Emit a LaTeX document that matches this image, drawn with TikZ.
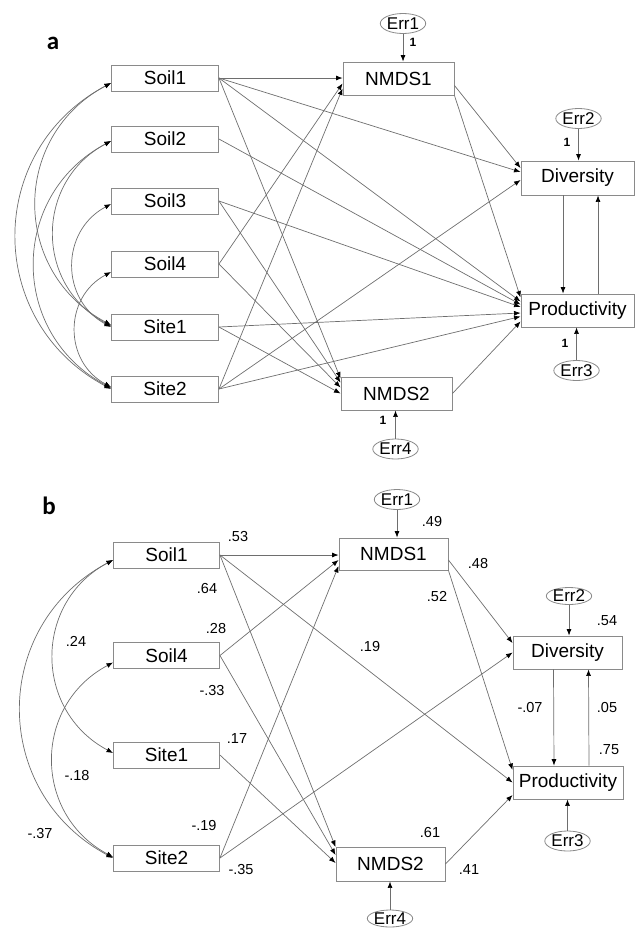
\documentclass[tikz,border=0pt]{standalone}
\usepackage{fontspec}
\setmainfont{Liberation Sans}
\newfontfamily\panelfont{Carlito}
\usetikzlibrary{arrows.meta,shapes.geometric}

\definecolor{edge}{HTML}{6E6E6E}
\definecolor{frame}{HTML}{8A8A8A}

\tikzstyle{obs}=[draw=frame, line width=0.9pt, inner sep=0pt, minimum width=107pt,
  minimum height=26pt, font=\fontsize{19}{21}\selectfont]
\tikzstyle{big}=[obs, minimum width=111pt, minimum height=33pt]
\tikzstyle{err}=[draw=frame, line width=0.8pt, ellipse, inner sep=0pt, minimum width=45pt,
  minimum height=20pt, font=\fontsize{17}{19}\selectfont]
\tikzstyle{link}=[draw=edge, line width=0.7pt, -{Latex[length=6.5pt,width=5pt,color=black]}]
\tikzstyle{cov}=[draw=edge, line width=0.7pt,
  {Latex[length=6.5pt,width=5pt,color=black]}-{Latex[length=6.5pt,width=5pt,color=black]},
  bend right=62, looseness=1.2]
\tikzstyle{coef}=[inner sep=0pt, font=\fontsize{14.5}{16}\selectfont]
\tikzstyle{one}=[inner sep=0pt, font=\fontsize{12}{13}\selectfont\bfseries]
\tikzstyle{panel}=[inner sep=0pt, font=\panelfont\fontsize{25}{25}\selectfont\bfseries]

\begin{document}
\begin{tikzpicture}[x=1pt,y=1pt]
\useasboundingbox (0,0) rectangle (637,-929);
%
% Panel a
\draw (53,-43) node[panel](laba){a};
\foreach \nm/\txt/\y in {soil1a/Soil1/78, soil2a/Soil2/139, soil3a/Soil3/201,
  soil4a/Soil4/264, site1a/Site1/327, site2a/Site2/389}{
  \draw (165,-\y) node[obs](\nm){\txt};
}
\draw (398.5,-78.5) node[big](nmds1a){NMDS1};
\draw (396.5,-393.5) node[big](nmds2a){NMDS2};
\draw (577.5,-178) node[big, minimum width=113pt, minimum height=34pt](diva){Diversity};
\draw (577.5,-310.5) node[big, minimum width=113pt](proda){Productivity};
%
\draw (403,-23.5) node[err](err1a){Err1};
\draw (578.5,-118.5) node[err](err2a){Err2};
\draw (576.5,-370.5) node[err](err3a){Err3};
\draw (395.5,-449) node[err](err4a){Err4};
\draw[link] (err1a.south) -- (err1a.south |- nmds1a.north);
\draw[link] (err2a.south) -- (err2a.south |- diva.north);
\draw[link] (err3a.north) -- (err3a.north |- proda.south);
\draw[link] (err4a.north) -- (err4a.north |- nmds2a.south);
\draw (413,-42) node[one](o1a){1};
\draw (567,-142) node[one](o2a){1};
\draw (565,-343) node[one](o3a){1};
\draw (383,-420) node[one](o4a){1};
% Paths to NMDS1 and NMDS2
\draw[link] (soil1a.east) -- (soil1a.east -| nmds1a.west);
\draw[link] (soil4a.east) -- ([yshift=-5]nmds1a.west);
\draw[link] (site2a.east) -- ([yshift=-10]nmds1a.west);
\foreach \s/\sh in {soil1a/15, soil3a/11, soil4a/6, site1a/0}
  \draw[link] (\s.east) -- ([yshift=\sh]nmds2a.west);
% Paths to Diversity and Productivity
\draw[link] ([yshift=-7]nmds1a.east) -- ([yshift=10]diva.west);
\draw[link] (soil1a.east) -- ([yshift=6]diva.west);
\draw[link] (site2a.east) -- ([yshift=-2]diva.west);
\draw[link] (nmds1a.south east) -- ([yshift=13]proda.west);
\foreach \s/\sh in {soil1a/9, soil2a/6, soil3a/3.5, site1a/-2.5, site2a/-6}
  \draw[link] (\s.east) -- ([yshift=\sh]proda.west);
\draw[link] (nmds2a.east) -- ([yshift=-11]proda.west);
\draw[link] ([xshift=-14.5]diva.south) -- ([xshift=-14.5]proda.north);
\draw[link] ([xshift=20.5]proda.north) -- ([xshift=20.5]diva.south);
% Covariances
\draw[cov] ([yshift=-5]soil1a.west) to ([yshift=0]site2a.west);
\draw[cov] ([yshift=-5]soil1a.west) to ([yshift=2]site1a.west);
\draw[cov] ([yshift=-2]soil2a.west) to ([yshift=1]site2a.west);
\draw[cov] ([yshift=-2]soil2a.west) to ([yshift=1]site1a.west);
\draw[cov] ([yshift=-3]soil3a.west) to ([yshift=0]site1a.west);
\draw[cov] ([yshift=-8]soil4a.west) to ([yshift=2]site2a.west);
%
% Panel b
\draw (49,-506) node[panel](labb){b};
\foreach \nm/\txt/\y in {soil1b/Soil1/555, soil4b/Soil4/655.5, site1b/Site1/755, site2b/Site2/858}{
  \draw (166.5,-\y) node[obs, minimum width=106pt](\nm){\txt};
}
\draw (393.5,-554) node[big, minimum width=109pt, minimum height=32pt](nmds1b){NMDS1};
\draw (390.5,-864) node[big, minimum width=109pt, minimum height=34pt](nmds2b){NMDS2};
\draw (567.5,-652.5) node[big, minimum width=109pt](divb){Diversity};
\draw (568,-782.5) node[big, minimum width=110pt](prodb){Productivity};
%
\draw (397,-499.5) node[err](err1b){Err1};
\draw (569,-596) node[err, minimum height=17pt](err2b){Err2};
\draw (567.5,-841) node[err](err3b){Err3};
\draw (390,-918.5) node[err, minimum height=17pt](err4b){Err4};
\draw[link] (err1b.south) -- (err1b.south |- nmds1b.north);
\draw[link] (err2b.south) -- (err2b.south |- divb.north);
\draw[link] (err3b.north) -- (err3b.north |- prodb.south);
\draw[link] (err4b.north) -- (err4b.north |- nmds2b.south);
% Paths
\draw[link] (soil1b.east) -- (soil1b.east -| nmds1b.west);
\draw[link] (soil4b.east) -- ([yshift=-6]nmds1b.west);
\draw[link] (site2b.east) -- ([yshift=-12]nmds1b.west);
\draw[link] (soil1b.east) -- ([yshift=17]nmds2b.west);
\draw[link] (soil4b.east) -- ([yshift=9]nmds2b.west);
\draw[link] (site1b.east) -- ([yshift=1]nmds2b.west);
\draw[link] ([yshift=-6]nmds1b.east) -- ([yshift=9.5]divb.west);
\draw[link] (site2b.east) -- (divb.west);
\draw[link] (nmds1b.south east) -- ([yshift=12.5]prodb.west);
\draw[link] (soil1b.east) -- (prodb.west);
\draw[link] (nmds2b.east) -- ([yshift=-12.5]prodb.west);
\draw[link] ([xshift=-14]divb.south) -- ([xshift=-14]prodb.north);
\draw[link] ([xshift=21]prodb.north) -- ([xshift=21]divb.south);
% Covariances
\draw[cov] ([yshift=-5]soil1b.west) to ([yshift=0]site2b.west);
\draw[cov] ([yshift=-5]soil1b.west) to ([yshift=2]site1b.west);
\draw[cov] ([yshift=-7]soil4b.west) to ([yshift=1]site2b.west);
% Estimates
\draw (238,-537) node[coef](c53){.53};
\draw (207,-589) node[coef](c64){.64};
\draw (216,-628) node[coef](c28){.28};
\draw (76,-641) node[coef](c24){.24};
\draw (212,-690) node[coef](cm33){-.33};
\draw (237,-739) node[coef](c17){.17};
\draw (77,-775) node[coef](cm18){-.18};
\draw (204,-825) node[coef](cm19){-.19};
\draw (40,-833) node[coef](cm37){-.37};
\draw (241,-869) node[coef](cm35){-.35};
\draw (432,-522) node[coef](c49){.49};
\draw (478,-564) node[coef](c48){.48};
\draw (437,-597) node[coef](c52){.52};
\draw (370,-646) node[coef](c19){.19};
\draw (607,-621) node[coef](c54){.54};
\draw (530,-707) node[coef](cm07){-.07};
\draw (607,-707) node[coef](c05){.05};
\draw (609,-750) node[coef](c75){.75};
\draw (430,-832) node[coef](c61){.61};
\draw (469,-870) node[coef](c41){.41};
\end{tikzpicture}
\end{document}
